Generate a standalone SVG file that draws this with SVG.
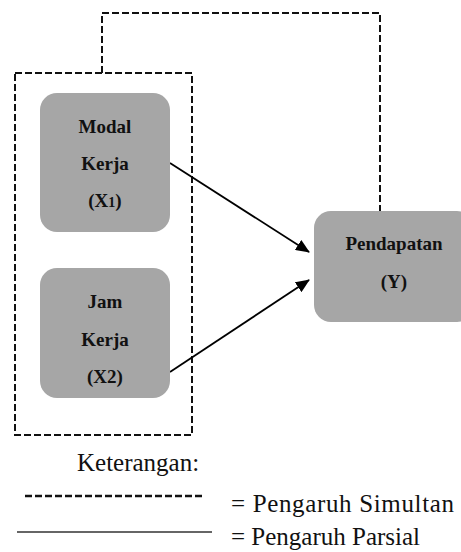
<svg xmlns="http://www.w3.org/2000/svg" width="461" height="552" viewBox="0 0 461 552">
<style>
.node{fill:#a6a6a6;}
.lbl{font-family:"Liberation Serif","Times New Roman",serif;font-weight:bold;font-size:19px;fill:#111;text-anchor:middle;}
.dash{fill:none;stroke:#111;stroke-width:2;stroke-dasharray:7 3;}
.solid{fill:none;stroke:#000;stroke-width:1.8;}
.leg{font-family:"Liberation Serif","Times New Roman",serif;font-size:25px;fill:#111;}
</style>
<defs>
<marker id="ah" markerWidth="14" markerHeight="12" refX="13" refY="6" orient="auto" markerUnits="userSpaceOnUse" viewBox="0 0 14 12">
<path d="M0,0 L14,6 L0,12 z" fill="#000"/>
</marker>
</defs>
<rect x="0" y="0" width="461" height="552" fill="#fff"/>
<g id="connectors">
<rect class="dash" x="15" y="73" width="177" height="362"/>
<path class="dash" d="M102,73 V13 H380 V211"/>
<line class="solid" x1="170" y1="163" x2="309" y2="252" marker-end="url(#ah)"/>
<line class="solid" x1="170" y1="372" x2="309" y2="280" marker-end="url(#ah)"/>
</g>
<g id="modal-kerja">
<rect class="node" x="40" y="93" width="130" height="139" rx="17"/>
<text class="lbl" x="105" y="133">Modal</text>
<text class="lbl" x="105" y="170">Kerja</text>
<text class="lbl" x="105" y="207">(X<tspan font-size="14">1</tspan>)</text>
</g>
<g id="jam-kerja">
<rect class="node" x="40" y="268" width="130" height="130" rx="17"/>
<text class="lbl" x="105" y="308">Jam</text>
<text class="lbl" x="105" y="346">Kerja</text>
<text class="lbl" x="105" y="383">(X2)</text>
</g>
<g id="pendapatan">
<rect class="node" x="314" y="211" width="160" height="111" rx="17"/>
<text class="lbl" x="394" y="250">Pendapatan</text>
<text class="lbl" x="394" y="288">(Y)</text>
</g>
<g id="legend">
<text class="leg" x="77" y="471">Keterangan:</text>
<line x1="25" y1="496" x2="203" y2="496" stroke="#111" stroke-width="2.5" stroke-dasharray="7 3"/>
<text class="leg" x="231" y="512" textLength="223" lengthAdjust="spacing">= Pengaruh Simultan</text>
<line x1="17" y1="532" x2="212" y2="532" stroke="#333" stroke-width="1.6"/>
<text class="leg" x="231" y="545">= Pengaruh Parsial</text>
</g>
</svg>
